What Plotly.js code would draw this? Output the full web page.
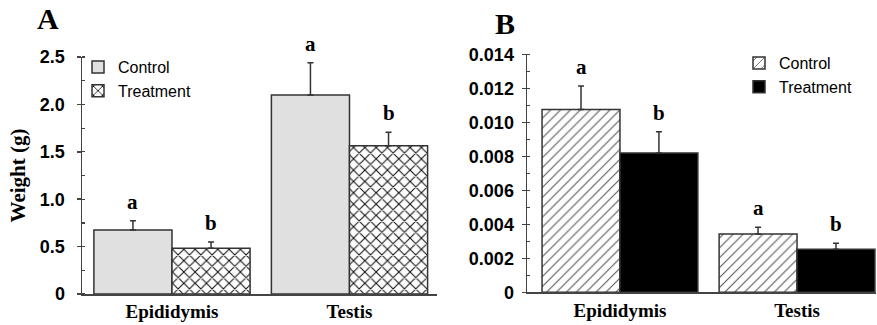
<!DOCTYPE html>
<html>
<head>
<meta charset="utf-8">
<script src="https://cdn.plot.ly/plotly-3.0.1.min.js"></script>
<style>html,body{margin:0;padding:0;background:#fff;}#chart{width:877px;height:325px;}</style>
</head>
<body>
<div id="chart"></div>
<script>
// ---- Data ----
const categories = ["Epididymis", "Testis"];
const seriesNames = ["Control", "Treatment"];

// Panel A: Weight (g)
const weightControl = [0.675, 2.10];
const weightControlErr = [0.098, 0.34];
const weightTreatment = [0.482, 1.565];
const weightTreatmentErr = [0.067, 0.14];
const lettersControlA = ["a", "a"];
const lettersTreatmentA = ["b", "b"];
const yTickValsA = [0, 0.5, 1.0, 1.5, 2.0, 2.5];
const yTickTextA = ["0", "0.5", "1.0", "1.5", "2.0", "2.5"];

// Panel B: relative weight
const relControl = [0.01076, 0.00343];
const relControlErr = [0.00138, 0.00039];
const relTreatment = [0.00819, 0.00253];
const relTreatmentErr = [0.00126, 0.00035];
const lettersControlB = ["a", "a"];
const lettersTreatmentB = ["b", "b"];
const yTickValsB = [0, 0.002, 0.004, 0.006, 0.008, 0.010, 0.012, 0.014];
const yTickTextB = ["0", "0.002", "0.004", "0.006", "0.008", "0.010", "0.012", "0.014"];

// ---- Build ----
const xIdx = categories.map((c, i) => i);
const lineCol = "#333";
const errStyle = (arr) => ({type: "data", symmetric: false, array: arr, arrayminus: arr.map(() => 0),
  color: lineCol, thickness: 1.5, width: 3});

const traces = [
  {type: "bar", name: seriesNames[0], x: xIdx, y: weightControl, xaxis: "x", yaxis: "y", legend: "legend",
   marker: {color: "#e0e0e0", line: {color: lineCol, width: 1.5}}, error_y: errStyle(weightControlErr)},
  {type: "bar", name: seriesNames[1], x: xIdx, y: weightTreatment, xaxis: "x", yaxis: "y", legend: "legend",
   marker: {color: "#ffffff", line: {color: lineCol, width: 1.5},
            pattern: {shape: "x", fgcolor: "#111", bgcolor: "#ffffff", size: 8, solidity: 0.25}},
   error_y: errStyle(weightTreatmentErr)},
  {type: "bar", name: seriesNames[0], x: xIdx, y: relControl, xaxis: "x2", yaxis: "y2", legend: "legend2",
   marker: {color: "#ffffff", line: {color: lineCol, width: 1.5},
            pattern: {shape: "/", fgcolor: "#555", bgcolor: "#ffffff", size: 7, solidity: 0.15}},
   error_y: errStyle(relControlErr)},
  {type: "bar", name: seriesNames[1], x: xIdx, y: relTreatment, xaxis: "x2", yaxis: "y2", legend: "legend2",
   marker: {color: "#000000", line: {color: lineCol, width: 1.5}}, error_y: errStyle(relTreatmentErr)}
];

const letterFont = {family: "Liberation Serif", size: 21, color: "#000", weight: "bold"};
const annotations = [];
const halfW = 0.22;
function addLetters(vals, errs, letters, side, xr, yr) {
  vals.forEach((v, i) => {
    annotations.push({x: i + side * halfW, y: v + errs[i], xref: xr, yref: yr, text: letters[i],
      showarrow: false, yanchor: "bottom", yshift: 5, font: letterFont});
  });
}
addLetters(weightControl, weightControlErr, lettersControlA, -1, "x", "y");
addLetters(weightTreatment, weightTreatmentErr, lettersTreatmentA, 1, "x", "y");
addLetters(relControl, relControlErr, lettersControlB, -1, "x2", "y2");
addLetters(relTreatment, relTreatmentErr, lettersTreatmentB, 1, "x2", "y2");

const panelFont = {family: "Liberation Serif", size: 30, color: "#000", weight: "bold"};
annotations.push({x: 48/877, y: 1 - 19/325, xref: "paper", yref: "paper", text: "A", showarrow: false,
  xanchor: "center", yanchor: "middle", font: panelFont});
annotations.push({x: 505/877, y: 1 - 23/325, xref: "paper", yref: "paper", text: "B", showarrow: false,
  xanchor: "center", yanchor: "middle", font: panelFont});

const tickFont = {family: "Liberation Sans", size: 18, color: "#000", weight: "bold"};
const catFont = {family: "Liberation Serif", size: 19, color: "#000", weight: "bold"};

const xCommon = {tickmode: "array", tickvals: xIdx, ticktext: categories, tickfont: catFont,
  showline: true, linecolor: "#444", linewidth: 1.5, ticks: "", showgrid: false, zeroline: false, fixedrange: true};
const yCommon = {tickmode: "array", showline: true, linecolor: "#444", linewidth: 1.5, ticks: "outside",
  ticklen: 4, tickcolor: "#444", tickwidth: 1.5, tickfont: tickFont, showgrid: false, zeroline: false};

const layout = {
  width: 877, height: 325,
  margin: {l: 0, r: 0, t: 0, b: 0},
  paper_bgcolor: "#fff", plot_bgcolor: "#fff",
  barmode: "group", bargap: 0.12, bargroupgap: 0,
  showlegend: true,
  xaxis: Object.assign({}, xCommon, {domain: [82/877, 437/877], range: [-0.507, 1.493], anchor: "y"}),
  yaxis: Object.assign({}, yCommon, {domain: [1 - 294/325, 1 - 57/325], range: [0, 2.5], anchor: "x",
    tickvals: yTickValsA, ticktext: yTickTextA, ticklabelstandoff: 8,
    minor: {ticks: "inside", ticklen: 3, tickcolor: "#444", tickwidth: 1.2, dtick: 0.25, showgrid: false},
    title: {text: "Weight (g)", font: {family: "Liberation Serif", size: 21, color: "#000", weight: "bold"}, standoff: 8}}),
  xaxis2: Object.assign({}, xCommon, {domain: [527/877, 876/877], range: [-0.525, 1.446], anchor: "y2"}),
  yaxis2: Object.assign({}, yCommon, {domain: [1 - 292.3/325, 1 - 54.3/325], range: [0, 0.014], anchor: "x2",
    tickvals: yTickValsB, ticktext: yTickTextB, ticklabelstandoff: 4,
    minor: {ticks: "inside", ticklen: 3, tickcolor: "#444", tickwidth: 1.2, dtick: 0.001, showgrid: false}}),
  legend: {x: 78/877, y: 1 - 50/325, xanchor: "left", yanchor: "top", bgcolor: "rgba(0,0,0,0)",
    font: {family: "Liberation Sans", size: 16, color: "#000"}, tracegroupgap: 0, itemwidth: 30},
  legend2: {x: 739/877, y: 1 - 46/325, xanchor: "left", yanchor: "top", bgcolor: "rgba(0,0,0,0)",
    font: {family: "Liberation Sans", size: 16, color: "#000"}, tracegroupgap: 0, itemwidth: 30},
  annotations: annotations
};

Plotly.newPlot("chart", traces, layout, {staticPlot: true, displayModeBar: false});
</script>
</body>
</html>
